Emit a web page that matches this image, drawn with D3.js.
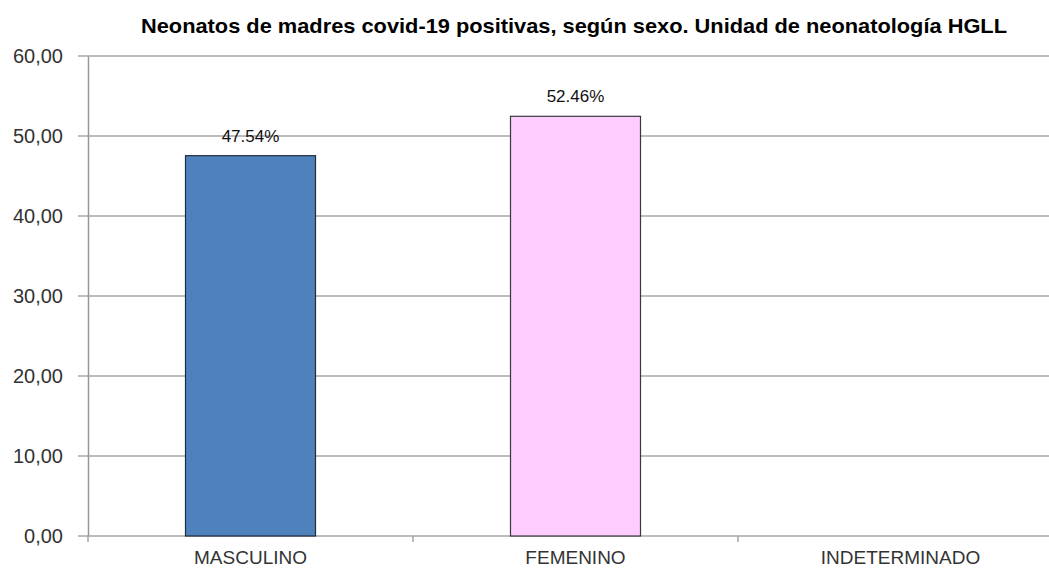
<!DOCTYPE html>
<html lang="es">
  <head>
    <meta charset="UTF-8" />
    <title>Neonatos según sexo</title>
    <script src="https://d3js.org/d3.v7.min.js"></script>
    <style>
      body { margin: 0; background: #fff; }
      text { font-family: 'Liberation Sans', Arial, sans-serif; }
    </style>
  </head>
  <body>
    <div class="d3Chart"></div>
    <script>
      // datos
      const categorias = ['MASCULINO', 'FEMENINO', 'INDETERMINADO']
      const valores = [47.54, 52.46, 0]
      const etiquetas = ['47.54%', '52.46%', '']
      const colores = ['#4f81bd', '#ffccff', '#9bbb59']
      const yTicks = [0, 10, 20, 30, 40, 50, 60]

      const width = 1049
      const height = 569
      const mLeft = 88
      const mTop = 56
      const mBottom = 536

      const svg = d3.select('.d3Chart').append('svg').attr('width', width).attr('height', height)

      const x = d3.scaleBand().domain(categorias).range([mLeft, mLeft + 975]).padding(0)
      const y = d3.scaleLinear().domain([0, 60]).range([mBottom, mTop])

      // titulo
      svg.append('text')
        .attr('x', 574).attr('y', 33)
        .attr('text-anchor', 'middle')
        .attr('font-weight', 'bold')
        .attr('font-size', 21)
        .attr('textLength', 866)
        .attr('lengthAdjust', 'spacingAndGlyphs')
        .attr('fill', '#000')
        .text('Neonatos de madres covid-19 positivas, según sexo. Unidad de neonatología HGLL')

      // grid
      svg.append('g')
        .selectAll('line')
        .data(yTicks)
        .join('line')
        .attr('x1', mLeft - 10).attr('x2', width)
        .attr('y1', d => y(d)).attr('y2', d => y(d))
        .attr('stroke', '#a6a6a6').attr('stroke-width', 1.5)

      // eje y
      const yAxis = svg.append('g').attr('transform', `translate(${mLeft},0)`)
        .call(d3.axisLeft(y).tickValues(yTicks).tickSize(0).tickPadding(25)
          .tickFormat(d => d3.format('.2f')(d).replace('.', ',')))
      yAxis.select('.domain').attr('stroke', '#999').attr('stroke-width', 1.5)
      yAxis.selectAll('text').attr('font-size', 20).attr('fill', '#333')
        .attr('font-family', "'Liberation Sans', Arial, sans-serif")

      // ticks del eje x
      svg.append('g')
        .selectAll('line')
        .data(categorias)
        .join('line')
        .attr('x1', d => x(d)).attr('x2', d => x(d))
        .attr('y1', mBottom).attr('y2', mBottom + 6)
        .attr('stroke', '#a6a6a6').attr('stroke-width', 1.5)

      // barras
      const bw = x.bandwidth() * 0.4
      svg.append('g')
        .selectAll('rect')
        .data(valores)
        .join('rect')
        .filter(d => d > 0)
        .attr('x', (d, i) => x(categorias[i]) + x.bandwidth() / 2 - bw / 2)
        .attr('y', d => y(d))
        .attr('width', bw)
        .attr('height', d => mBottom - y(d))
        .attr('fill', (d, i) => colores[i])
        .attr('stroke', (d, i) => (i === 0 ? '#1f2d3d' : '#3a3a3a'))
        .attr('stroke-width', 1.2)

      // etiquetas de valores
      svg.append('g')
        .selectAll('text')
        .data(valores)
        .join('text')
        .attr('x', (d, i) => x(categorias[i]) + x.bandwidth() / 2)
        .attr('y', d => y(d) - 14)
        .attr('text-anchor', 'middle')
        .attr('font-size', 17)
        .attr('fill', '#111')
        .text((d, i) => etiquetas[i])

      // etiquetas de categorias
      svg.append('g')
        .selectAll('text')
        .data(categorias)
        .join('text')
        .attr('x', d => x(d) + x.bandwidth() / 2)
        .attr('y', 564)
        .attr('text-anchor', 'middle')
        .attr('font-size', 19)
        .attr('fill', '#333')
        .text(d => d)
    </script>
  </body>
</html>
